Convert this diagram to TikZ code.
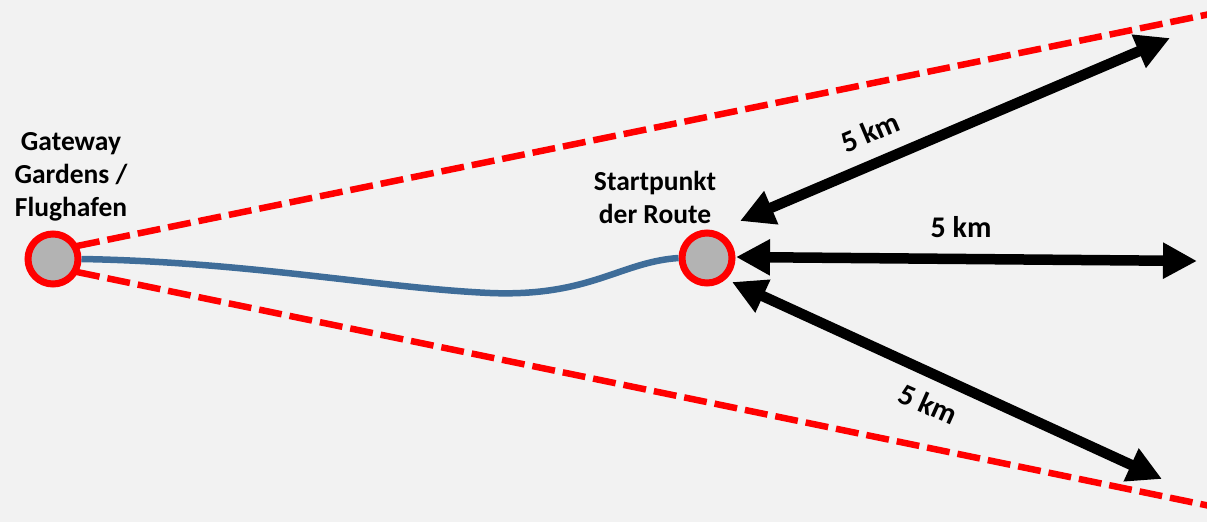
\documentclass[tikz,border=0pt]{standalone}
\usepackage{fontspec}
\setmainfont{Carlito}
\usetikzlibrary{arrows.meta}
\definecolor{bg}{HTML}{F2F2F2}
\definecolor{ring}{HTML}{FF0000}
\definecolor{dot}{HTML}{B3B3B3}
\definecolor{route}{HTML}{3F6D99}
\tikzset{
  stop/.style={circle, draw=ring, line width=7pt, fill=dot, minimum size=50pt, inner sep=0pt},
  bound/.style={draw=ring, line width=6.5pt, dash pattern=on 23pt off 8pt},
  dist/.style={draw=black, line width=10.5pt, {Triangle[length=34pt,width=34pt]}-{Triangle[length=34pt,width=34pt]}},
  lbl/.style={font=\bfseries\fontsize{27.5}{33}\selectfont, align=center, text=black},
  km/.style={font=\bfseries\fontsize{30}{34}\selectfont, text=black, inner sep=1pt}
}
\begin{document}
\begin{tikzpicture}[x=1pt,y=-1pt]
\fill[bg] (0,0) rectangle (1207,522);
\useasboundingbox (0,0) rectangle (1207,522);
\node[stop] (L) at (53,259) {};
\node[stop] (R) at (707,258) {};
\coordinate (Ut) at (1215,13);
\coordinate (Lt) at (1215,507);
\draw[bound] (L) ++(24,-13) coordinate (Ls1) -- (Ut);
\draw[bound] (L) ++(24,13) coordinate (Ls2) -- (Lt);
\draw[route, line width=6.5pt] (L.east) .. controls (250,262) and (380,288) .. (490,293) .. controls (590,297) and (620,262) .. (R.west);
\coordinate (A1s) at (740,221);
\coordinate (A1e) at (1170,38);
\coordinate (A2s) at (736,257);
\coordinate (A2e) at (1197,261);
\coordinate (A3s) at (732,282);
\coordinate (A3e) at (1162,479);
\draw[dist] (A1s) -- (A1e);
\draw[dist] (A2s) -- (A2e);
\draw[dist] (A3s) -- (A3e);
\node[lbl] (gw) at (71,177) {Gateway\\Gardens /\\Flughafen};
\node[lbl] (sp) at (655,197) {Startpunkt\\der Route};
\node[km, rotate=23] (k1) at (870,132) {5 km};
\node[km] (k2) at (961,227) {5 km};
\node[km, rotate=-24] (k3) at (928,404) {5 km};
\end{tikzpicture}
\end{document}
